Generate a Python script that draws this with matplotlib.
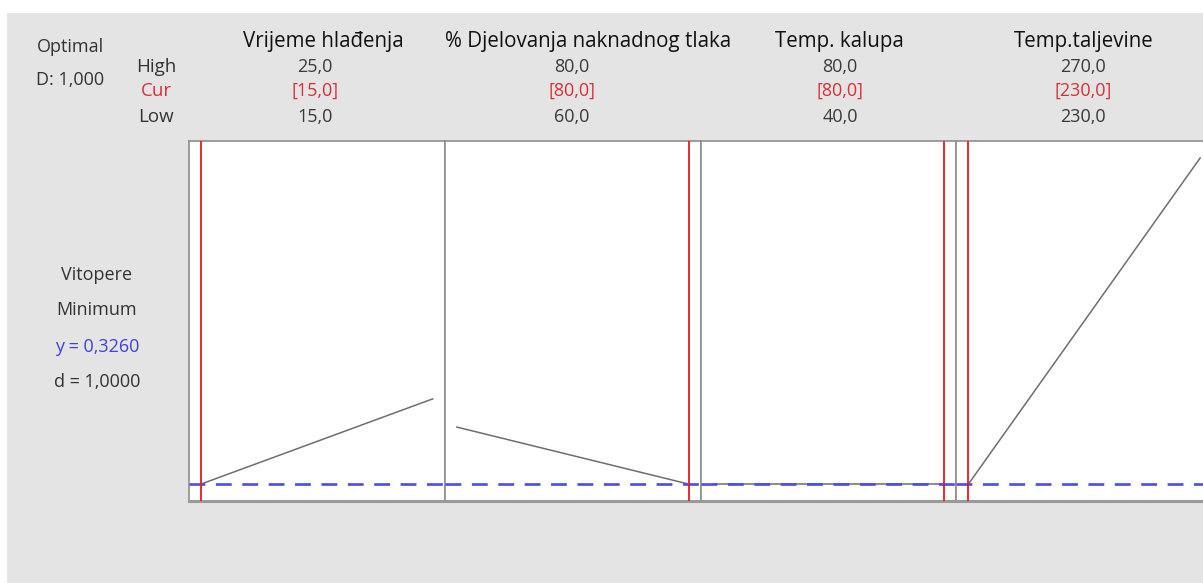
import matplotlib.pyplot as plt
from matplotlib.patches import Rectangle

plt.rcParams['font.family'] = ['Open Sans', 'DejaVu Sans']

# Factors, their ranges and the current (optimal) setting
factors = ['Vrijeme hlađenja', '% Djelovanja naknadnog tlaka', 'Temp. kalupa', 'Temp.taljevine']
low = [15.0, 60.0, 40.0, 230.0]
high = [25.0, 80.0, 80.0, 270.0]
cur = [15.0, 80.0, 80.0, 230.0]

# Predicted response (Vitopere) at the low and high end of each factor
resp_low = [0.3260, 0.4350, 0.3260, 0.3260]
resp_high = [0.4890, 0.3260, 0.3260, 0.9500]

y_opt = 0.3260
d_val = 1.0
D_val = 1.000

W, H = 1203, 583
fig = plt.figure(figsize=(W / 100, H / 100), dpi=100)
fig.patch.set_facecolor('white')
fig.add_artist(Rectangle((7 / W, 0), 1, (H - 13) / H, transform=fig.transFigure,
                         facecolor='#e4e4e4', edgecolor='none', zorder=-10))


def fmt(v, nd):
    return f'{v:.{nd}f}'.replace('.', ',')


def px(x, y):
    return x / W, 1 - y / H


# panel geometry in pixels
left0, pw, top, bottom = 189, 255.8, 141, 501
red = '#e8191c'
blue = '#4b4bf0'
grey_edge = '#8e8e8e'

ymin = min(resp_low + resp_high)
ymax = max(resp_low + resp_high)
ypad = 0.052 * (ymax - ymin)

header_x = [323, 588, 839, 1084]
value_x = [315, 572, 840, 1083]
fs_head = 14.8
fs = 13

for i in range(len(factors)):
    ax = fig.add_axes([(left0 + i * pw) / W, (H - bottom) / H, pw / W, (bottom - top) / H])
    xpad = 0.052 * (high[i] - low[i])
    ax.set_xlim(low[i] - xpad, high[i] + xpad)
    ax.set_ylim(ymin - ypad, ymax + ypad)
    ax.set_xticks([])
    ax.set_yticks([])
    for s in ax.spines.values():
        s.set_color(grey_edge)
        s.set_linewidth(1.2)
    ax.spines['bottom'].set_linewidth(2.2)
    ax.spines['bottom'].set_color('#9a9a9a')

    ax.plot([low[i], high[i]], [resp_low[i], resp_high[i]], color='#6e6e6e', lw=1.1, zorder=2)
    ax.axhline(y_opt, color=blue, lw=1.9, dashes=(6, 4), zorder=3)
    ax.axvline(cur[i], color=red, lw=1.3, zorder=4)

    # header block above each panel
    fig.text(*px(header_x[i], 41), factors[i], ha='center', va='center',
             fontsize=fs_head, color='#111111')
    fig.text(*px(value_x[i], 67), fmt(high[i], 1), ha='center', va='center',
             fontsize=fs, color='#3a3a3a')
    fig.text(*px(value_x[i], 91), '[' + fmt(cur[i], 1) + ']', ha='center', va='center',
             fontsize=fs, color='#d8303a')
    fig.text(*px(value_x[i], 117), fmt(low[i], 1), ha='center', va='center',
             fontsize=fs, color='#3a3a3a')

# row labels and the overall desirability
fig.text(*px(70, 47), 'Optimal', ha='center', va='center', fontsize=fs, color='#333333')
fig.text(*px(70, 80), 'D: ' + fmt(D_val, 3), ha='center', va='center', fontsize=fs, color='#333333')
fig.text(*px(156, 67), 'High', ha='center', va='center', fontsize=fs + 0.5, color='#333333')
fig.text(*px(156, 91), 'Cur', ha='center', va='center', fontsize=fs + 0.5, color='#d8303a')
fig.text(*px(156, 117), 'Low', ha='center', va='center', fontsize=fs + 0.5, color='#333333')

# response description on the left
fig.text(*px(97, 275), 'Vitopere', ha='center', va='center', fontsize=fs, color='#333333')
fig.text(*px(97, 310), 'Minimum', ha='center', va='center', fontsize=fs, color='#333333')
fig.text(*px(97, 347), 'y = ' + fmt(y_opt, 4), ha='center', va='center', fontsize=fs, color='#4040e0')
fig.text(*px(97, 382), 'd = ' + fmt(d_val, 4), ha='center', va='center', fontsize=fs, color='#333333')

fig.savefig('out.png', dpi=100)
